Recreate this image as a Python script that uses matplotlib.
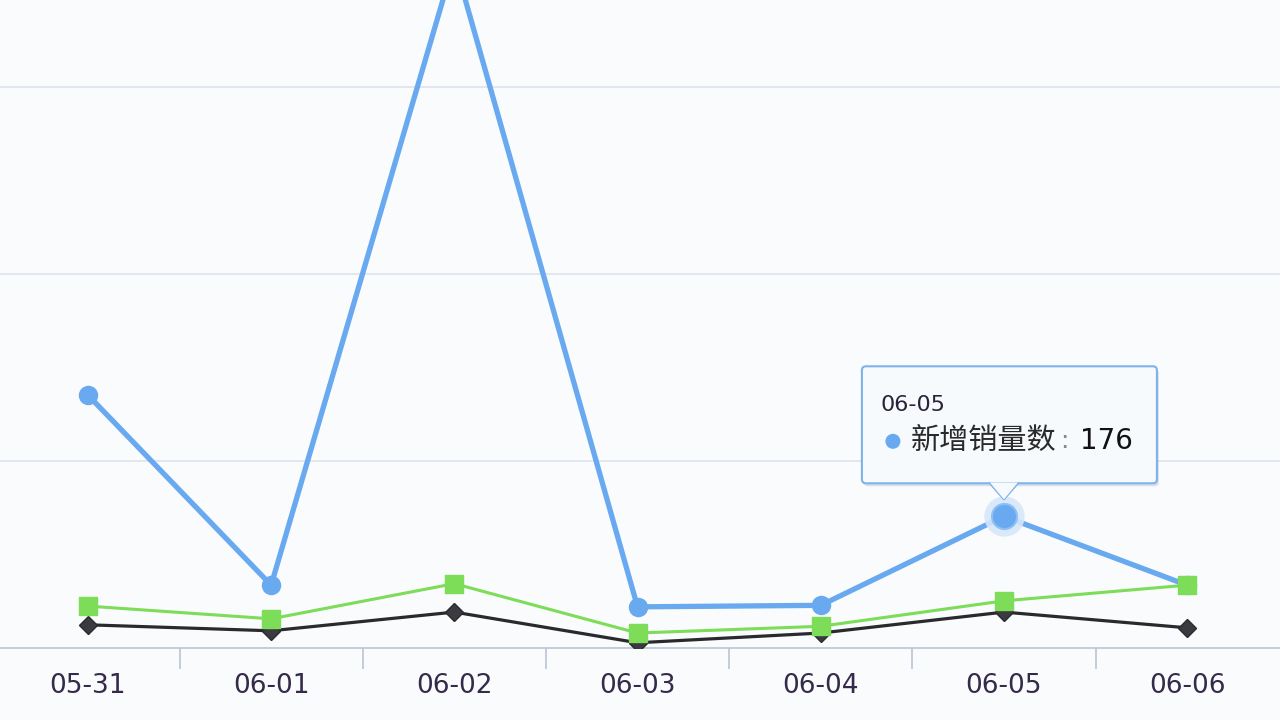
import matplotlib
matplotlib.use("Agg")
import matplotlib.pyplot as plt
from matplotlib.patches import FancyBboxPatch, Polygon, Circle
from matplotlib.transforms import IdentityTransform

categories = ["05-31", "06-01", "06-02", "06-03", "06-04", "06-05", "06-06"]
blue_vals = [338, 84, 918, 55, 57, 176, 84]     # 新增销量数
green_vals = [56, 39, 86, 20, 29, 63, 84]
black_vals = [31, 23, 48, 7, 20, 48, 27]
highlight_idx = 5
tooltip_series = "新增销量数"

plt.rcParams['font.family'] = ['DejaVu Sans', 'Noto Sans CJK SC']

BG = '#f9fbfd'
BLUE = '#68a9f0'
GREEN = '#7ddc58'
BLACK = '#2a2a2e'
GRID = '#dfe5ee'
AXIS = '#b8c5d6'
LABEL = '#352a4a'

fig = plt.figure(figsize=(12.8, 7.2), dpi=100, facecolor=BG)
ax = fig.add_axes([0, 0.1, 1, 0.9])
ax.set_facecolor(BG)

x = list(range(len(categories)))
ax.set_xlim(-0.48, 6.507)
ax.set_ylim(0, 866)

for s in ['top', 'right', 'left']:
    ax.spines[s].set_visible(False)
ax.spines['bottom'].set_color(AXIS)
ax.spines['bottom'].set_linewidth(1.2)

ax.set_yticks([250, 500, 750])
ax.tick_params(axis='y', left=False, labelleft=False)
ax.yaxis.grid(True, color=GRID, linewidth=1.3)
ax.set_axisbelow(True)

ax.set_xticks(x)
ax.set_xticklabels(categories, fontsize=19, color=LABEL)
ax.set_xticks([i + 0.5 for i in range(len(categories) - 1)], minor=True)
ax.tick_params(axis='x', which='major', length=0, pad=18)
ax.tick_params(axis='x', which='minor', length=15, width=1.2, color=AXIS)

ax.plot(x, blue_vals, color=BLUE, lw=3.8, marker='o', ms=13,
        markeredgecolor=BLUE, zorder=3, solid_joinstyle='round')
ax.plot(x, black_vals, color=BLACK, lw=2.3, marker='D', ms=9,
        markerfacecolor='#3a3a40', markeredgecolor=BLACK, zorder=4)
ax.plot(x, green_vals, color=GREEN, lw=2.2, marker='s', ms=13,
        markeredgecolor=GREEN, zorder=5)

# highlighted point
hx, hy = highlight_idx, blue_vals[highlight_idx]
ax.plot([hx], [hy], marker='o', ms=29, color='#d6e7fa', alpha=0.9, zorder=6,
        markeredgewidth=0)
ax.plot([hx], [hy], marker='o', ms=18, color=BLUE, zorder=7,
        markeredgecolor='#8dbef5', markeredgewidth=1.5)

# tooltip in display pixels relative to the highlighted point
fig.canvas.draw()
px, py = ax.transData.transform((hx, hy))
ident = IdentityTransform()
left, right = px - 142, px + 153
bottom, top = py + 33, py + 150
shadow = FancyBboxPatch((left + 2, bottom - 3), right - left, top - bottom,
                        boxstyle="round,pad=0,rounding_size=4", transform=ident,
                        facecolor='#9fb5cc', edgecolor='none', alpha=0.35, zorder=9)
fig.patches.append(shadow)
box = FancyBboxPatch((left, bottom), right - left, top - bottom,
                     boxstyle="round,pad=0,rounding_size=4", transform=ident,
                     facecolor='#f7fafd', edgecolor='#7fb2ea', linewidth=1.5, zorder=10)
fig.patches.append(box)
tri = Polygon([(px - 14, bottom + 0.8), (px + 14, bottom + 0.8), (px, py + 17)],
              closed=True, transform=ident, facecolor='#f7fafd',
              edgecolor='none', zorder=11)
fig.patches.append(tri)
fig.lines.append(plt.Line2D([px - 14, px, px + 14], [bottom, py + 17, bottom],
                            transform=ident, color='#7fb2ea', lw=1.5, zorder=11))

fig.text(left + 19, py + 111, categories[highlight_idx], transform=ident,
         fontsize=16, color='#2a2238', va='center', ha='left', zorder=12)
fig.patches.append(Circle((left + 31, py + 75), 7.5, transform=ident,
                          facecolor=BLUE, edgecolor='none', zorder=12))
fig.text(left + 49, py + 75, tooltip_series, transform=ident,
         fontsize=21, color='#2a2a2a', va='center', ha='left', zorder=12,
         family=['Noto Sans CJK SC', 'DejaVu Sans'])
fig.text(left + 198, py + 75, ":", transform=ident,
         fontsize=18, color='#888888', va='center', ha='left', zorder=12)
fig.text(left + 218, py + 75, str(blue_vals[highlight_idx]), transform=ident,
         fontsize=20, color='#111111', va='center', ha='left', zorder=12)

fig.savefig("out.png", dpi=100, facecolor=BG)
